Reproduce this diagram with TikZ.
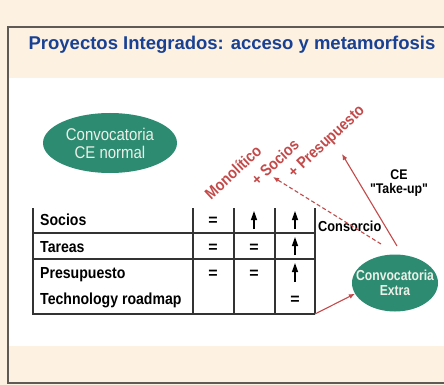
\documentclass[tikz,border=0pt]{standalone}
\usepackage{fontspec}
\setmainfont{Liberation Sans}
\newfontfamily\narrowsans[FakeStretch=0.88]{Liberation Sans}
\newfontfamily\narrowersans[FakeStretch=0.84]{Liberation Sans}
\usetikzlibrary{arrows.meta,shapes.geometric}
\definecolor{cream}{RGB}{253,242,225}
\definecolor{titleblue}{RGB}{24,64,148}
\definecolor{ovalgreen}{RGB}{44,139,113}
\definecolor{ovaltext}{RGB}{236,240,232}
\definecolor{arrowred}{RGB}{196,74,74}
\definecolor{framegray}{RGB}{95,90,85}
\tikzset{
  oval/.style={ellipse, fill=ovalgreen, inner sep=0pt},
  ovallabel/.style={align=center, inner sep=0pt, text=ovaltext},
  rowlabel/.style={anchor=base west, inner sep=0pt, font=\narrowsans\bfseries\fontsize{16}{16}\selectfont},
  cellmark/.style={inner sep=0pt, font=\bfseries\fontsize{16}{16}\selectfont},
  redlabel/.style={text=arrowred, rotate=43, inner sep=0pt, font=\narrowsans\bfseries\fontsize{16}{16}\selectfont},
  tablerule/.style={line width=1.1pt, color=black!80},
  uparrow/.style={line width=1.3pt, -{Triangle[length=9pt,width=6pt]}},
  redarrow/.style={line width=1.1pt, color=arrowred, -{Latex[length=6pt,width=5pt]}},
}

\begin{document}
\begin{tikzpicture}[x=1pt,y=-1pt]
	%%%%% START %%%%%
	
	\useasboundingbox (0,0) rectangle (444,385);
	\clip (0,0) rectangle (444,385);
	
	\fill[cream] (0,0) rectangle (444,385);
	\fill[white] (9,78) rectangle (444,346);
	\draw[framegray, line width=1.5pt] (450,27) -- (8,27) -- (8,383) -- (450,383);
	
	\node[text=titleblue, font=\bfseries\fontsize{18.5}{20}\selectfont] (title) at (232,45) {Proyectos Integrados: acceso y metamorfosis};
	
	\node[oval, minimum width=134pt, minimum height=60pt] (normal) at (110,143) {};
	\node[ovallabel, font=\narrowsans\fontsize{17}{18}\selectfont] (normaltext) at (normal) {Convocatoria\\CE normal};
	
	\node[oval, minimum width=86pt, minimum height=57pt] (extra) at (395,283) {};
	\node[ovallabel, font=\narrowersans\bfseries\fontsize{14.5}{15}\selectfont] (extratext) at (extra) {Convocatoria\\Extra};
	
	% table
	\draw[tablerule] (33,208) -- (33,314) -- (315,314);
	\draw[tablerule] (33,233) -- (315,233);
	\draw[tablerule] (33,259) -- (315,259);
	\foreach \x in {193,234,275,315}
		\draw[tablerule] (\x,208) -- (\x,314);
	
	\node[rowlabel] (socios) at (40,225) {Socios};
	\node[rowlabel] (tareas) at (40,252) {Tareas};
	\node[rowlabel] (presupuesto) at (40,278) {Presupuesto};
	\node[rowlabel] (roadmap) at (40,304) {Technology roadmap};
	
	\node[cellmark] (eqa) at (213,221) {=};
	\node[cellmark] (eqb) at (213,248) {=};
	\node[cellmark] (eqc) at (254,248) {=};
	\node[cellmark] (eqd) at (213,274) {=};
	\node[cellmark] (eqe) at (254,274) {=};
	\node[cellmark] (eqf) at (295,300) {=};
	
	\draw[uparrow] (254,229) -- (254,211);
	\draw[uparrow] (295,229) -- (295,211);
	\draw[uparrow] (295,255) -- (295,237);
	\draw[uparrow] (295,282) -- (295,263);
	
	\node[anchor=base west, inner sep=0pt, font=\narrowsans\bfseries\fontsize{14.5}{15}\selectfont] (consorcio) at (318,231) {Consorcio};
	\node[align=center, inner sep=0pt, font=\narrowsans\bfseries\fontsize{14}{14.5}\selectfont] (takeup) at (399,183) {CE\\"Take-up"};
	
	\node[redlabel] (monolitico) at (233,172) {Monolítico};
	\node[redlabel] (massocios) at (275,162) {+ Socios};
	\node[redlabel] (maspresupuesto) at (327,142) {+ Presupuesto};
	
	\coordinate (tabcorner) at (315,314);
	\coordinate (dashstart) at (381,244);
	\coordinate (sociostip) at (273,177);
	\coordinate (takeupstart) at (397,246);
	\coordinate (presuptip) at (342,154);
	
	\draw[redarrow] (tabcorner) -- (extra.195);
	\draw[redarrow, dash pattern=on 4pt off 2.5pt] (dashstart) -- (sociostip);
	\draw[redarrow] (takeupstart) -- (presuptip);
	
	%%%%% END %%%%%
\end{tikzpicture}
\end{document}
